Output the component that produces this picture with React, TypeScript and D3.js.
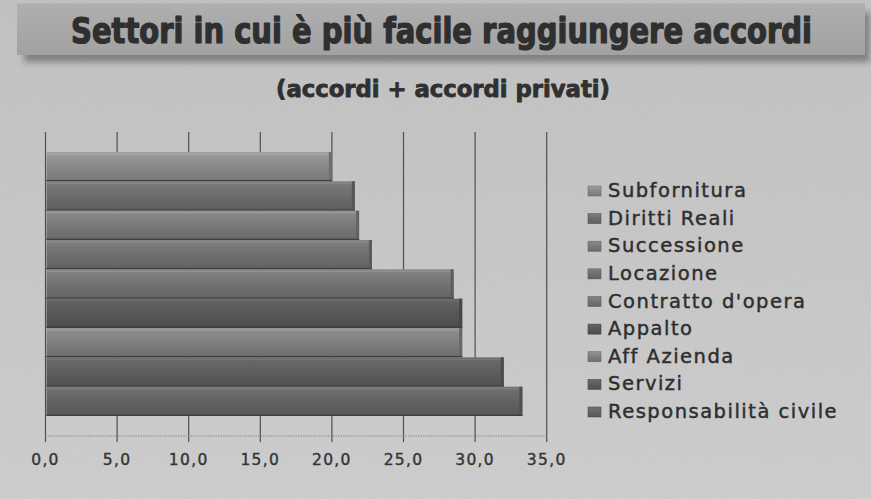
import React from "react";
import * as d3 from "d3";

const WIDTH = 871;
const HEIGHT = 499;

// data, top bar first
const categories = [
  "Subfornitura",
  "Diritti Reali",
  "Successione",
  "Locazione",
  "Contratto d'opera",
  "Appalto",
  "Aff Azienda",
  "Servizi",
  "Responsabilità civile",
];
const values = [20.0, 21.6, 21.9, 22.8, 28.5, 29.1, 29.1, 32.0, 33.3];
const xTickValues = [0, 5, 10, 15, 20, 25, 30, 35];

const TITLE = "Settori in cui è più facile raggiungere accordi";
const SUBTITLE = "(accordi + accordi privati)";

// grey shades of the scanned bars, same order as categories
const shades = [
  "#868686",
  "#6a6a6a",
  "#777777",
  "#6d6d6d",
  "#717171",
  "#565656",
  "#7c7c7c",
  "#5c5c5c",
  "#616161",
];

const condensed = "'DejaVu Sans Condensed', 'Liberation Sans Narrow', 'DejaVu Sans', sans-serif";
const sans = "'DejaVu Sans', Verdana, sans-serif";

export default function App() {
  const x = d3.scaleLinear().domain([0, 35]).range([45.5, 546.7]);
  const y = d3.scaleBand<string>().domain(categories).range([152, 416]).padding(0);
  const fmt = (v: number) => d3.format(".1f")(v).replace(".", ",");

  const legendY = d3
    .scalePoint<string>()
    .domain(categories)
    .range([197, 418]);

  return (
    <svg
      width={WIDTH}
      height={HEIGHT}
      style={{ position: "fixed", left: 0, top: 0, display: "block" }}
    >
      <defs>
        <linearGradient id="paper" x1="0" y1="0" x2="0" y2="1">
          <stop offset="0" stopColor="#c1c1c1" />
          <stop offset="0.5" stopColor="#c7c7c7" />
          <stop offset="1" stopColor="#cdcdcd" />
        </linearGradient>
        <linearGradient id="titleBar" x1="0" y1="0" x2="0" y2="1">
          <stop offset="0" stopColor="#afafaf" />
          <stop offset="1" stopColor="#a2a2a2" />
        </linearGradient>
        <filter id="grain" x="0" y="0" width="100%" height="100%">
          <feTurbulence type="fractalNoise" baseFrequency="0.85" numOctaves="2" seed="4" />
          <feColorMatrix type="saturate" values="0" />
        </filter>
        <filter id="blur" x="-5%" y="-50%" width="110%" height="200%">
          <feGaussianBlur stdDeviation="3" />
        </filter>
        {shades.map((c, i) => {
          const base = d3.color(c)!;
          return (
            <linearGradient key={i} id={`bar${i}`} x1="0" y1="0" x2="0" y2="1">
              <stop offset="0" stopColor={base.brighter(0.55).formatHex()} />
              <stop offset="0.12" stopColor={base.brighter(0.35).formatHex()} />
              <stop offset="0.55" stopColor={base.formatHex()} />
              <stop offset="0.9" stopColor={base.darker(0.25).formatHex()} />
              <stop offset="1" stopColor={base.darker(0.6).formatHex()} />
            </linearGradient>
          );
        })}
      </defs>

      {/* paper */}
      <rect x={0} y={0} width={WIDTH} height={HEIGHT} fill="url(#paper)" />
      <rect x={0} y={0} width={WIDTH} height={HEIGHT} filter="url(#grain)" opacity={0.1} />

      {/* title bar */}
      <rect x={24} y={12} width={846} height={50} fill="#6f6f6f" filter="url(#blur)" opacity={0.8} />
      <rect x={17} y={3.5} width={848} height={51.5} fill="url(#titleBar)" />
      <text
        transform="translate(71,43) scale(1,1.22)"
        textLength={741}
        lengthAdjust="spacingAndGlyphs"
        fontFamily={condensed}
        fontWeight="bold"
        fontSize={29}
        fill="#2f2f2f"
        stroke="#2f2f2f"
        strokeWidth={1.0}
        strokeLinejoin="round"
      >
        {TITLE}
      </text>
      <text
        x={276}
        y={97}
        textLength={334}
        lengthAdjust="spacingAndGlyphs"
        fontFamily={condensed}
        fontWeight="bold"
        fontSize={23}
        fill="#303030"
        stroke="#303030"
        strokeWidth={0.8}
        strokeLinejoin="round"
      >
        {SUBTITLE}
      </text>

      {/* grid + ticks */}
      {xTickValues.map((t) => (
        <line
          key={t}
          x1={x(t)}
          x2={x(t)}
          y1={132}
          y2={442}
          stroke="#4f4f4f"
          strokeWidth={1.2}
        />
      ))}
      <line x1={x(0)} x2={x(35)} y1={436} y2={436} stroke="#8a8a8a" strokeWidth={1.2} strokeDasharray="1.5 1" />

      {/* bars */}
      {categories.map((c, i) => {
        const by = y(c)!;
        const bh = y.bandwidth();
        const x0 = x(0) + 1;
        const x1 = x(values[i]);
        const base = d3.color(shades[i])!;
        return (
          <g key={c}>
            <rect x={x0} y={by} width={x1 - x0} height={bh} fill={`url(#bar${i})`} />
            <line x1={x0} x2={x1 - 3} y1={by + 2} y2={by + 2} stroke={base.brighter(0.7).formatHex()} strokeWidth={1.2} />
            <rect x={x1 - 3} y={by} width={3} height={bh} fill={base.darker(0.55).formatHex()} />
            <line x1={x0} x2={x1} y1={by + bh - 0.6} y2={by + bh - 0.6} stroke="#3e3e3e" strokeWidth={1.3} />
          </g>
        );
      })}

      {/* tick labels */}
      {xTickValues.map((t) => (
        <text
          key={t}
          x={x(t)}
          y={465}
          textAnchor="middle"
          fontFamily={sans}
          fontSize={15.5}
          letterSpacing={1.3}
          fill="#353535"
          stroke="#353535"
          strokeWidth={0.4}
        >
          {fmt(t)}
        </text>
      ))}

      {/* legend */}
      {categories.map((c, i) => {
        const ly = legendY(c)!;
        const base = d3.color(shades[i])!;
        return (
          <g key={c}>
            <rect x={588} y={ly - 11} width={13} height={10} fill={`url(#bar${i})`} stroke={base.darker(0.5).formatHex()} strokeWidth={0.6} />
            <text
              x={608}
              y={ly}
              fontFamily={sans}
              fontSize={19.5}
              letterSpacing={1.5}
              fill="#2e2e2e"
              stroke="#2e2e2e"
              strokeWidth={0.45}
            >
              {c}
            </text>
          </g>
        );
      })}
    </svg>
  );
}
